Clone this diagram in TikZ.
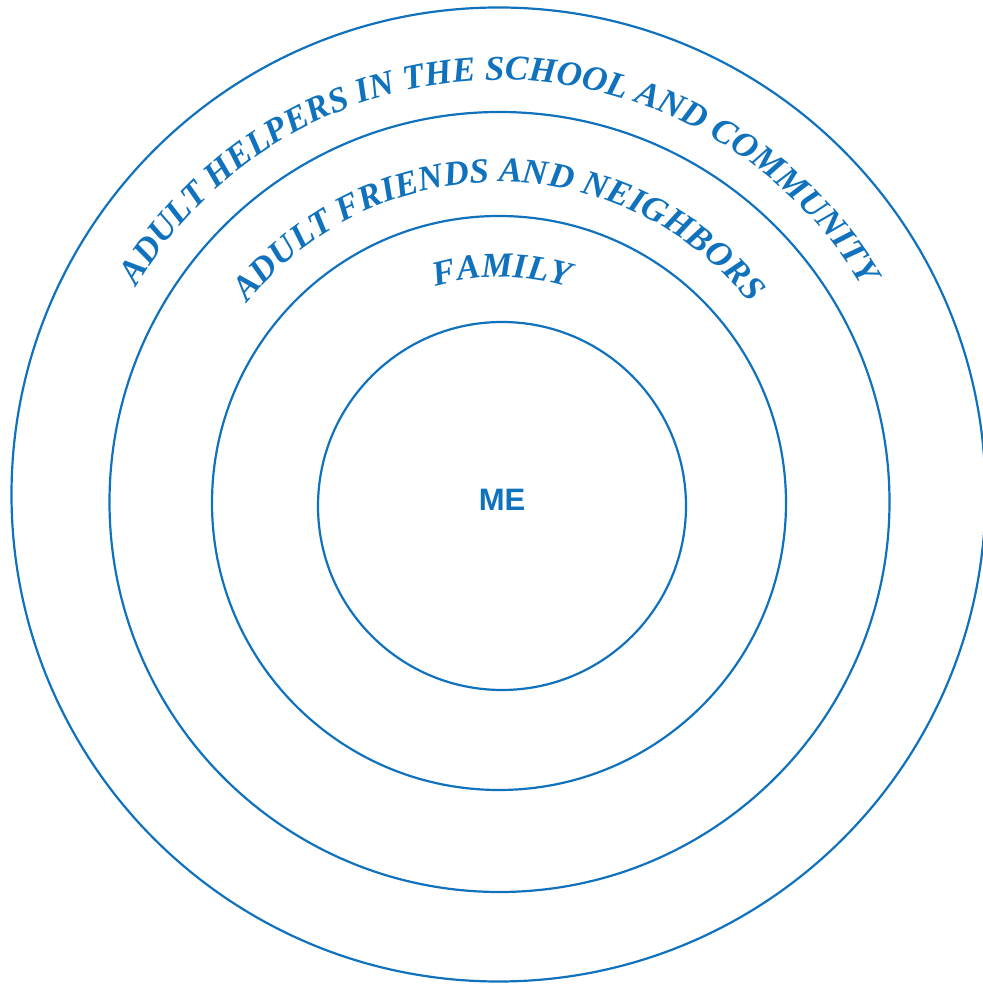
\documentclass[tikz,border=0pt]{standalone}
\usepackage{fontspec}
\usepackage{tikz}
\usetikzlibrary{decorations.text}
\newfontfamily\mesans{Liberation Sans}
\newfontfamily\ringserif{Liberation Serif}
\definecolor{ringblue}{RGB}{16,114,189}

\begin{document}
\begin{tikzpicture}[x=0.5pt, y=0.5pt,
    ring/.style={circle, draw=ringblue, line width=1.1pt, inner sep=0pt},
    curved/.style={decorate, decoration={text along path, text align=center, text color=ringblue,
        text={|\ringserif\bfseries\itshape\fontsize{17.5}{20}\selectfont|#1}}}
]
\useasboundingbox (0,0) rectangle (983,985);

\node[ring, minimum size=487pt] (helpers) at (498.5,490.5) {};
\node[ring, minimum size=390pt] (friends) at (499.5,483) {};
\node[ring, minimum size=287pt] (family) at (499,482) {};
\node[ring, minimum size=184pt] (me) at (502,479) {};
\node[text=ringblue, font=\mesans\bfseries\fontsize{15.5}{18}\selectfont] (melabel) at ([yshift=3pt]me.center) {ME};

\path[curved={ADULT HELPERS IN THE SCHOOL AND COMMUNITY}] (friends.center) ++(155:422) arc[start angle=155, end angle=25, radius=422];
\path[curved={ADULT FRIENDS AND NEIGHBORS}] (family.center) ++(150:321) arc[start angle=150, end angle=30, radius=321];
\path[curved={FAMILY}] (me.center) ++(130:229) arc[start angle=130, end angle=50, radius=229];
\end{tikzpicture}
\end{document}
